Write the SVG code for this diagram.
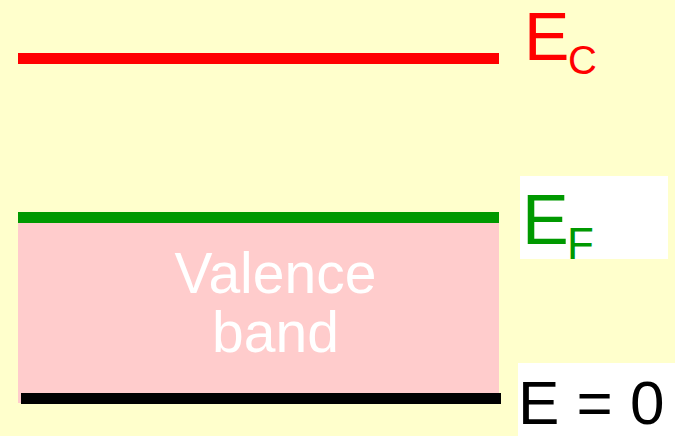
<svg xmlns="http://www.w3.org/2000/svg" width="675" height="436" viewBox="0 0 675 436">
<style>
text{font-family:"Liberation Sans",Arial,sans-serif}
.lbl{font-size:68px}
.sub{font-size:40px}
.band{font-size:57px;fill:#FFFFFF;text-anchor:middle}
</style>
<rect width="675" height="436" fill="#FFFFCC"/>
<g id="valence-band">
<rect x="18" y="223" width="481" height="180" fill="#FFCCCC"/>
<text class="band" x="275.5" y="293">Valence</text>
<text class="band" x="275.5" y="352">band</text>
</g>
<g id="ec-level">
<rect x="18" y="53" width="481" height="11" fill="#FF0000"/>
<text class="lbl" x="524" y="60" fill="#FF0000">E</text>
<text class="sub" x="568" y="74" fill="#FF0000">C</text>
</g>
<g id="ef-level">
<rect x="18" y="212" width="481" height="11" fill="#009900"/>
<rect x="520" y="176" width="148" height="83" fill="#FFFFFF"/>
<text class="lbl" x="522" y="244" fill="#009900" style="font-size:70px">E</text>
<text class="sub" x="567" y="259" fill="#009900" style="font-size:44px">F</text>
</g>
<g id="e0-level">
<rect x="21" y="393" width="480" height="11" fill="#000000"/>
<rect x="518" y="363" width="157" height="73" fill="#FFFFFF"/>
<text x="518" y="424" fill="#000000" style="font-size:62px">E = 0</text>
</g>
<g id="connectors"/>
</svg>
